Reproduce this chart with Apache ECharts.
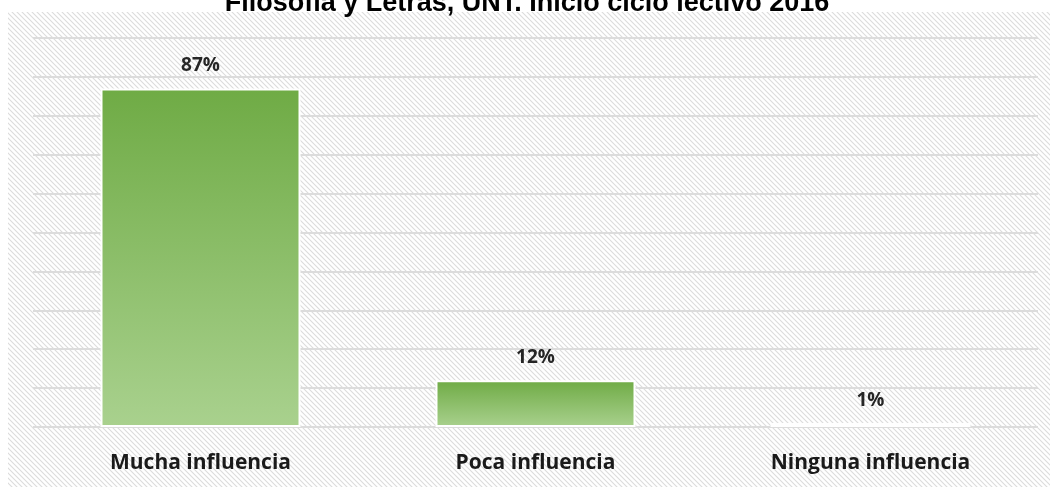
<!DOCTYPE html>
<html>
<head>
<meta charset="utf-8">
<script src="https://cdn.jsdelivr.net/npm/echarts@6/dist/echarts.min.js"></script>
<style>
  html, body { margin: 0; padding: 0; background: #fff; }
  #chart { width: 1054px; height: 487px; }
</style>
</head>
<body>
<div id="chart"></div>
<script>
// datos
var categories = ['Mucha influencia', 'Poca influencia', 'Ninguna influencia'];
var percentages = [87, 12, 1];
var titleText = 'Filosofía y Letras, UNT. Inicio ciclo lectivo 2016';

// trama diagonal del fondo
function makeHatch() {
    var n = 5;
    var c = document.createElement('canvas');
    c.width = n; c.height = n;
    var ctx = c.getContext('2d');
    ctx.fillStyle = '#ffffff';
    ctx.fillRect(0, 0, n, n);
    ctx.strokeStyle = '#dcdcdc';
    ctx.lineWidth = 1.1;
    ctx.beginPath();
    ctx.moveTo(-1, -1); ctx.lineTo(n + 1, n + 1);
    ctx.moveTo(-n - 1, -1); ctx.lineTo(1, n + 1);
    ctx.moveTo(n - 1, -1); ctx.lineTo(2 * n + 1, n + 1);
    ctx.stroke();
    return c;
}

var chart = echarts.init(document.getElementById('chart'));

var option = {
    backgroundColor: '#ffffff',
    animation: false,
    title: {
        text: titleText,
        left: 'center',
        top: -15,
        textStyle: {
            fontFamily: 'Liberation Sans',
            fontWeight: 'bold',
            fontSize: 27,
            color: '#000'
        }
    },
    graphic: [{
        type: 'rect',
        z: -10,
        silent: true,
        shape: { x: 8, y: 12, width: 1042, height: 475 },
        style: { fill: { image: makeHatch(), repeat: 'repeat' } }
    }],
    grid: { left: 33, right: 16, top: 38, bottom: 60 },
    xAxis: {
        type: 'category',
        data: categories,
        axisLine: { show: false },
        axisTick: { show: false },
        axisLabel: {
            margin: 26,
            fontFamily: 'Open Sans',
            fontWeight: 'bold',
            fontSize: 21,
            color: '#1a1a1a'
        }
    },
    yAxis: {
        type: 'value',
        min: 0,
        max: 100,
        interval: 10,
        axisLabel: { show: false },
        axisLine: { show: false },
        axisTick: { show: false },
        splitLine: { lineStyle: { color: '#dcdcdc', width: 2 } }
    },
    series: [{
        type: 'bar',
        data: percentages,
        barWidth: 200,
        itemStyle: {
            borderColor: '#ffffff',
            borderWidth: 2,
            color: new echarts.graphic.LinearGradient(0, 0, 0, 1, [
                { offset: 0, color: '#6fab45' },
                { offset: 1, color: '#a9d18e' }
            ])
        },
        label: {
            show: true,
            position: 'top',
            distance: 13,
            formatter: '{c}%',
            fontFamily: 'Open Sans',
            fontWeight: 'bold',
            fontSize: 19,
            color: '#262626'
        }
    }]
};

chart.setOption(option);
</script>
</body>
</html>
